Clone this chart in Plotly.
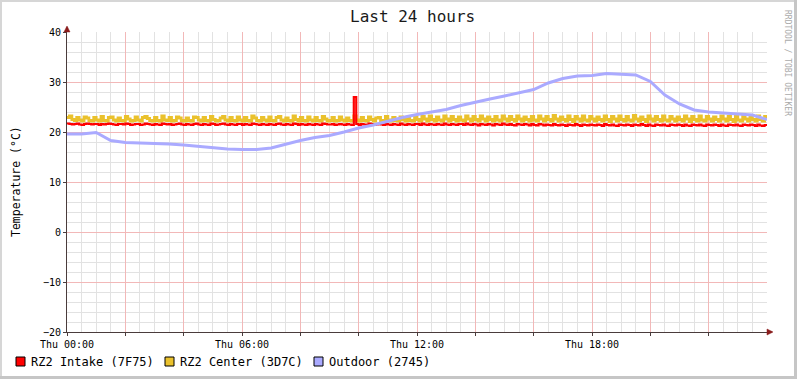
import plotly.graph_objects as go
import pandas as pd

# ---------------- data ----------------
start = pd.Timestamp("2024-01-04 00:00")  # a Thursday
end = pd.Timestamp("2024-01-05 00:00")

intake_7f75 = [
    21.7, 21.6, 21.5, 21.6, 21.7, 21.5, 21.4, 21.6, 21.7, 21.6, 21.5, 21.6,
    21.6, 21.4, 21.6, 21.5, 21.6, 21.7, 21.6, 21.5, 21.4, 21.6, 21.6, 21.5,
    21.7, 21.6, 21.4, 21.5, 21.6, 21.6, 21.4, 21.5, 21.7, 21.6, 21.5, 21.4,
    21.6, 21.5, 21.4, 21.7, 21.6, 21.5, 21.6, 21.4, 21.5, 21.6, 21.7, 21.5,
    21.4, 21.6, 21.5, 21.4, 21.6, 21.7, 21.5, 21.4, 21.6, 21.5, 21.4, 21.7,
    21.6, 21.4, 21.5, 21.6, 21.7, 21.5, 21.4, 21.6, 21.5, 21.4, 21.6, 21.6,
    21.4, 21.6, 21.5, 21.4, 21.7, 21.6, 21.5, 21.4, 21.6, 21.5, 21.4, 21.6,
    21.5, 21.4, 21.6, 21.7, 21.5, 21.4, 21.6, 21.5, 21.4, 21.7, 21.6, 21.4,
    21.6, 21.5, 21.4, 21.6, 21.5, 21.4, 21.6, 21.5, 21.4, 21.7, 21.6, 21.5,
    21.5, 21.6, 21.4, 21.5, 21.6, 21.5, 21.4, 21.6, 21.5, 21.4, 27.0, 21.6,
    21.4, 21.6, 21.5, 21.4, 21.7, 21.6, 21.4, 21.5, 21.6, 21.5, 21.4, 21.6,
    21.5, 21.4, 21.6, 21.5, 21.4, 21.7, 21.5, 21.4, 21.6, 21.5, 21.4, 21.6,
    21.6, 21.4, 21.7, 21.5, 21.4, 21.6, 21.5, 21.4, 21.6, 21.5, 21.4, 21.7,
    21.5, 21.4, 21.6, 21.5, 21.4, 21.6, 21.6, 21.4, 21.7, 21.5, 21.4, 21.6,
    21.5, 21.3, 21.6, 21.5, 21.4, 21.6, 21.5, 21.3, 21.6, 21.5, 21.4, 21.7,
    21.5, 21.4, 21.6, 21.4, 21.3, 21.6, 21.5, 21.4, 21.6, 21.5, 21.3, 21.6,
    21.4, 21.3, 21.6, 21.5, 21.3, 21.5, 21.4, 21.3, 21.6, 21.4, 21.3, 21.5,
    21.4, 21.2, 21.5, 21.4, 21.3, 21.6, 21.4, 21.2, 21.5, 21.4, 21.3, 21.5,
    21.4, 21.3, 21.5, 21.4, 21.2, 21.6, 21.4, 21.3, 21.5, 21.3, 21.2, 21.5,
    21.4, 21.3, 21.5, 21.4, 21.2, 21.5, 21.4, 21.3, 21.6, 21.4, 21.2, 21.5,
    21.3, 21.2, 21.5, 21.4, 21.3, 21.5, 21.3, 21.2, 21.5, 21.4, 21.3, 21.5,
    21.4, 21.2, 21.5, 21.3, 21.2, 21.5, 21.4, 21.3, 21.5, 21.3, 21.2, 21.5,
    21.4, 21.3, 21.5, 21.4, 21.2, 21.5, 21.3, 21.2, 21.5, 21.4, 21.3, 21.5,
    21.3, 21.2, 21.5, 21.4, 21.3, 21.5, 21.4, 21.2, 21.5, 21.3, 21.2, 21.4,
    21.4,
]

center_3d7c = [
    22.9, 23.2, 22.5, 22.3, 22.9, 22.4, 22.2, 23.0, 22.8, 22.3, 22.2, 22.9,
    22.4, 22.2, 23.1, 22.3, 22.2, 22.9, 23.0, 22.4, 22.2, 22.8, 22.3, 22.2,
    23.1, 22.6, 22.2, 22.3, 23.0, 22.4, 22.2, 22.9, 23.1, 22.7, 22.3, 22.2,
    22.9, 22.3, 22.2, 23.2, 22.4, 22.3, 22.9, 22.2, 22.3, 23.0, 22.8, 22.3,
    22.2, 22.8, 22.3, 22.2, 23.0, 22.9, 22.4, 22.2, 22.9, 22.3, 22.2, 23.1,
    22.5, 22.2, 22.3, 22.8, 23.1, 22.4, 22.2, 22.9, 22.3, 22.2, 23.0, 22.4,
    22.2, 22.9, 22.3, 22.2, 23.2, 22.8, 22.3, 22.2, 22.9, 22.4, 22.2, 23.0,
    22.3, 22.2, 22.9, 23.1, 22.4, 22.2, 22.8, 22.3, 22.2, 23.2, 22.5, 22.2,
    22.9, 22.3, 22.2, 23.0, 22.4, 22.2, 22.9, 22.3, 22.2, 23.1, 22.6, 22.2,
    22.3, 22.9, 22.2, 22.3, 23.0, 22.4, 22.2, 22.8, 22.3, 22.2, 23.2, 22.4,
    22.2, 22.9, 22.3, 22.2, 23.0, 22.5, 22.2, 22.8, 22.9, 22.3, 22.2, 23.1,
    22.4, 22.2, 22.9, 22.3, 22.2, 23.0, 22.5, 22.2, 22.9, 22.3, 22.2, 23.1,
    22.5, 22.2, 23.1, 22.6, 22.2, 23.2, 22.5, 22.2, 23.0, 22.4, 22.2, 23.2,
    22.6, 22.2, 23.1, 22.5, 22.2, 23.0, 22.4, 22.2, 23.2, 22.6, 22.2, 23.1,
    22.5, 22.2, 23.2, 22.6, 22.2, 23.0, 22.5, 22.2, 23.1, 22.4, 22.2, 23.2,
    22.6, 22.2, 23.1, 22.5, 22.2, 23.2, 22.6, 22.2, 23.0, 22.5, 22.2, 23.1,
    22.4, 22.2, 23.2, 22.6, 22.2, 23.1, 22.5, 22.2, 23.3, 22.6, 22.2, 23.0,
    22.5, 22.2, 23.2, 22.5, 22.1, 23.1, 22.6, 22.2, 23.2, 22.4, 22.2, 23.1,
    22.6, 22.2, 23.0, 22.5, 22.2, 23.2, 22.5, 22.1, 23.1, 22.6, 22.2, 23.2,
    22.5, 22.2, 23.1, 22.4, 22.2, 23.3, 22.6, 22.2, 23.0, 22.5, 22.1, 23.2,
    22.6, 22.2, 23.1, 22.5, 22.2, 23.2, 22.4, 22.2, 23.1, 22.6, 22.2, 23.0,
    22.5, 22.2, 23.2, 22.6, 22.1, 23.1, 22.5, 22.2, 23.2, 22.4, 22.2, 23.1,
    22.6, 22.2, 23.0, 22.5, 22.2, 23.2, 22.6, 22.2, 23.1, 22.5, 22.1, 23.2,
    22.4, 22.2, 23.1, 22.6, 22.2, 23.0, 22.5, 22.2, 23.2, 22.5, 22.2, 23.1,
    22.6,
]

outdoor_2745 = [
    19.6, 19.6, 19.9, 18.3, 17.9, 17.8, 17.8, 17.6, 17.4, 17.1,
    16.9, 16.6, 16.5, 16.5, 16.8, 17.6, 18.3, 18.9, 19.3, 20.0,
    20.8, 21.4, 22.2, 22.9, 23.5, 24.0, 24.5, 25.3, 26.0, 26.6,
    27.2, 27.8, 28.5, 29.8, 30.7, 31.2, 31.3, 31.7, 31.6, 31.4,
    30.1, 27.4, 25.6, 24.4, 24.0, 23.8, 23.6, 23.4, 22.5,
]

series_names = ["RZ2 Intake (7F75)", "RZ2 Center (3D7C)", "Outdoor (2745)"]
series_colors = ["#ff0000", "#eac12c", "#aaaaff"]
tick_labels = ["Thu 00:00", "Thu 06:00", "Thu 12:00", "Thu 18:00"]

t5 = pd.date_range(start, end, periods=len(intake_7f75))
t30 = pd.date_range(start, end, periods=len(outdoor_2745))

# ---------------- figure ----------------
W, H = 797, 379
L, R, T, B = 67, 30, 32, 47
PW, PH = W - L - R, H - T - B


def px(x):
    return (x - L) / PW


def py(y):
    return (H - B - y) / PH


FONT = "DejaVu Sans Mono"
fig = go.Figure()
fig.add_trace(go.Scatter(x=t5, y=center_3d7c, mode="lines", line=dict(color=series_colors[1], width=2.8, shape="hv"),
                         name=series_names[1], showlegend=False))
fig.add_trace(go.Scatter(x=t5, y=intake_7f75, mode="lines", line=dict(color=series_colors[0], width=2.2, shape="hv"),
                         name=series_names[0], showlegend=False))
fig.add_trace(go.Scatter(x=t30, y=outdoor_2745, mode="lines", line=dict(color=series_colors[2], width=3),
                         name=series_names[2], showlegend=False))

major_vals = list(pd.date_range(start, end - pd.Timedelta(hours=2), freq="2h"))
major_text = [tick_labels[i // 3] if i % 3 == 0 else "" for i in range(len(major_vals))]

AXIS = "#4a3c3c"
ARROW = "#8b1c1c"
MGRID = "#f2b8b8"
GRID = "#e2e2e2"

fig.update_layout(
    width=W, height=H,
    margin=dict(l=L, r=R, t=T, b=B),
    paper_bgcolor="#ffffff", plot_bgcolor="#ffffff",
    font=dict(family=FONT, size=10, color="#000000"),
    xaxis=dict(
        type="date", range=[start, end],
        tickmode="array", tickvals=major_vals, ticktext=major_text,
        showgrid=True, gridcolor=MGRID, gridwidth=1,
        ticks="outside", ticklen=3, tickcolor=AXIS,
        showline=True, linecolor=AXIS, linewidth=1,
        zeroline=False,
        tickfont=dict(family=FONT, size=10),
        minor=dict(dtick=30 * 60 * 1000, tick0=start, showgrid=True, gridcolor=GRID, gridwidth=1, ticks=""),
    ),
    yaxis=dict(
        range=[-20, 40], tick0=0, dtick=10,
        showgrid=True, gridcolor=MGRID, gridwidth=1,
        ticks="outside", ticklen=3, tickcolor=AXIS,
        showline=True, linecolor=AXIS, linewidth=1,
        zeroline=False,
        tickfont=dict(family=FONT, size=10),
        minor=dict(dtick=2, tick0=0, showgrid=True, gridcolor=GRID, gridwidth=1, ticks=""),
    ),
    showlegend=False,
    hovermode=False,
)

shapes = []
# axis arrows
shapes.append(dict(type="line", xref="paper", yref="paper", x0=0, x1=0, y0=1, y1=py(27), line=dict(color=AXIS, width=1)))
shapes.append(dict(type="path", xref="paper", yref="paper",
                   path=f"M {px(64)} {py(32)} L {px(70)} {py(32)} L {px(67)} {py(26)} Z",
                   fillcolor=ARROW, line=dict(color=ARROW, width=0.5)))
shapes.append(dict(type="line", xref="paper", yref="paper", x0=1, x1=px(772), y0=0, y1=0, line=dict(color=AXIS, width=1)))
shapes.append(dict(type="path", xref="paper", yref="paper",
                   path=f"M {px(767)} {py(329)} L {px(767)} {py(335)} L {px(773)} {py(332)} Z",
                   fillcolor=ARROW, line=dict(color=ARROW, width=0.5)))
# frame
shapes.append(dict(type="rect", xref="paper", yref="paper", x0=px(0), x1=px(2), y0=py(379), y1=py(0),
                   fillcolor="#d6d6d6", line=dict(width=0)))
shapes.append(dict(type="rect", xref="paper", yref="paper", x0=px(0), x1=px(797), y0=py(2), y1=py(0),
                   fillcolor="#d6d6d6", line=dict(width=0)))
shapes.append(dict(type="rect", xref="paper", yref="paper", x0=px(794), x1=px(797), y0=py(379), y1=py(0),
                   fillcolor="#c6c6c6", line=dict(width=0)))
shapes.append(dict(type="rect", xref="paper", yref="paper", x0=px(0), x1=px(797), y0=py(379), y1=py(376),
                   fillcolor="#c6c6c6", line=dict(width=0)))

annotations = []
legend_x = [16, 165, 314]
for name, color, lx in zip(series_names, series_colors, legend_x):
    shapes.append(dict(type="rect", xref="paper", yref="paper", x0=px(lx), x1=px(lx + 9), y0=py(366), y1=py(357),
                       fillcolor=color, line=dict(color="#000000", width=1)))
    annotations.append(dict(xref="paper", yref="paper", x=px(lx + 13), y=py(361.5), text=name, showarrow=False,
                            xanchor="left", yanchor="middle", font=dict(family=FONT, size=12, color="#000000")))

annotations.append(dict(xref="paper", yref="paper", x=px(412), y=py(16), text="Last 24 hours", showarrow=False,
                        xanchor="center", yanchor="middle", font=dict(family=FONT, size=16, color="#1a1a1a")))
annotations.append(dict(xref="paper", yref="paper", x=px(16), y=py(182), text="Temperature (°C)", showarrow=False,
                        textangle=-90, xanchor="center", yanchor="middle", font=dict(family=FONT, size=11.5, color="#000000")))
annotations.append(dict(xref="paper", yref="paper", x=px(788), y=py(63), text="RRDTOOL / TOBI OETIKER", showarrow=False,
                        textangle=90, xanchor="center", yanchor="middle", font=dict(family=FONT, size=8, color="#aaaaaa")))

fig.update_layout(shapes=shapes, annotations=annotations)
fig.write_html("out.html", config={"displayModeBar": False, "staticPlot": True},
               post_script="document.body.style.margin='0';document.body.style.overflow='hidden';")
